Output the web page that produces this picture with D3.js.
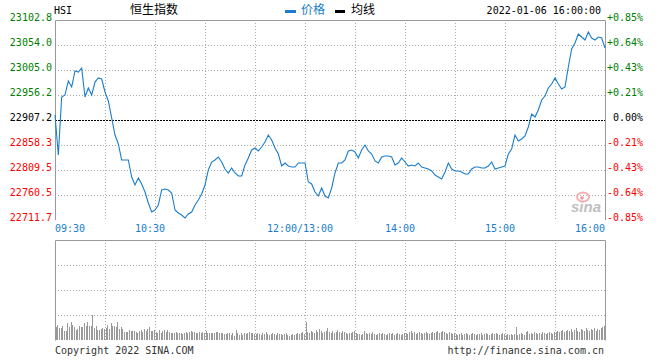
<!DOCTYPE html>
<html>
<head>
<meta charset="utf-8">
<script src="https://cdn.jsdelivr.net/npm/d3@7"></script>
<style>
html,body{margin:0;padding:0;background:#fff;}
svg{display:block;}
.mono{font-family:"DejaVu Sans Mono",monospace;font-size:10px;}
.cjk{font-family:"Noto Sans CJK SC",sans-serif;font-size:12px;}
</style>
</head>
<body>
<svg id="chart" width="660" height="360"></svg>
<script>
// ---------------- DATA ----------------
const symbol = "HSI";
const title = "恒生指数";
const stamp = "2022-01-06 16:00:00";
const prevClose = 22907.2;
const priceTicks = [23102.8, 23054.0, 23005.0, 22956.2, 22907.2, 22858.3, 22809.5, 22760.5, 22711.7];
const pctTicks = ["+0.85%", "+0.64%", "+0.43%", "+0.21%", "0.00%", "-0.21%", "-0.43%", "-0.64%", "-0.85%"];
const timeLabels = ["09:30", "10:30", "12:00/13:00", "14:00", "15:00", "16:00"];
const timeLabelMinutes = [0, 60, 150, 210, 270, 330];
const totalMinutes = 330;
const sampleStep = 2; // price sampled every 2 trading minutes
// index price, every 2 trading minutes from 09:30 to 16:00
const prices = [
22917.0,22838.8,22952.2,22956.1,22983.5,22971.8,23003.1,23001.1,23008.9,22952.2,
22969.8,22956.1,22981.5,22989.4,22987.4,22962.0,22944.4,22911.2,22877.9,22860.3,
22829.0,22829.0,22829.0,22795.8,22780.1,22793.8,22782.1,22766.4,22744.9,22727.3,
22731.2,22741.0,22770.4,22772.3,22770.4,22764.5,22731.2,22725.4,22721.5,22715.6,
22723.4,22727.3,22741.0,22750.8,22762.5,22780.1,22809.5,22825.1,22829.0,22834.9,
22825.1,22811.4,22803.6,22813.4,22803.6,22797.7,22797.7,22819.2,22832.9,22848.6,
22852.5,22846.6,22854.4,22864.2,22877.9,22868.1,22852.5,22840.8,22817.3,22823.2,
22817.3,22815.3,22815.3,22823.2,22823.2,22823.2,22786.0,22782.1,22766.4,22758.6,
22774.3,22758.6,22754.7,22774.3,22803.6,22823.2,22823.2,22829.0,22846.6,22848.6,
22844.7,22832.9,22848.6,22858.4,22846.6,22840.8,22827.1,22823.2,22834.9,22836.8,
22836.8,22834.9,22819.2,22823.2,22832.9,22825.1,22817.3,22819.2,22817.3,22823.2,
22815.3,22813.4,22811.4,22807.5,22799.7,22795.8,22791.9,22805.6,22823.2,22811.4,
22807.5,22807.5,22805.6,22801.6,22801.6,22811.4,22815.3,22815.3,22813.4,22813.4,
22817.3,22825.1,22811.4,22813.4,22815.3,22817.3,22840.8,22850.5,22877.9,22866.2,
22870.1,22876.0,22893.6,22919.0,22913.1,22926.8,22946.4,22954.2,22969.8,22977.6,
22989.4,22977.6,22967.9,22971.8,23010.9,23046.1,23057.8,23075.4,23069.5,23063.7,
23079.3,23067.6,23063.7,23069.5,23067.6,23048.0
];
// per-minute volume (relative units)
const volumes = [
13,15,12,12,14,9,9,17,13,18,15,13,10,11,14,13,13,17,14,18,14,14,25,12,14,10,10,11,12,11,
12,15,11,17,14,14,13,18,11,13,11,8,8,8,10,9,9,9,8,7,9,10,8,11,9,11,13,9,9,10,
8,7,10,7,9,10,8,10,8,7,7,7,8,7,7,7,6,7,8,7,8,9,8,8,7,7,8,7,8,7,
9,7,7,7,7,7,8,8,7,7,7,6,6,7,7,5,7,4,10,7,5,7,5,7,6,7,8,7,7,6,
6,7,6,5,7,6,8,6,5,6,7,6,5,7,6,6,5,6,7,5,4,5,6,5,6,7,6,7,8,6,
18,8,7,9,8,7,10,8,11,9,7,8,9,12,8,7,9,7,8,10,8,7,9,8,7,6,7,7,8,9,
7,6,6,5,6,9,7,6,7,6,8,6,5,6,7,6,7,6,5,6,7,6,7,5,6,7,6,5,6,7,
7,6,8,9,7,8,6,7,8,7,6,7,8,7,6,7,8,7,8,9,7,8,9,8,7,6,8,7,6,7,
6,5,6,7,5,6,7,6,5,6,7,6,5,6,6,7,5,6,7,6,5,6,7,6,7,6,5,6,7,6,
5,6,5,6,5,6,13,5,6,7,6,5,8,9,6,7,6,8,7,6,7,6,8,7,6,7,8,7,6,8,
8,9,8,9,10,8,9,10,9,11,8,10,12,9,8,11,10,9,12,10,9,11,10,12,9,11,10,12,13,14
];
const volMax = 100;
const footerLeft = "Copyright 2022 SINA.COM";
const footerRight = "http://finance.sina.com.cn";

// ---------------- LAYOUT ----------------
const L = 55, R = 605, T = 20, B = 220, VT = 240, VB = 340;
const GREEN = "#008000", RED = "#ff0000", BLUE = "#1a7dcc", GRID = "#aaaaaa", BORDER = "#999999";

const svg = d3.select("#chart");
const x = d3.scaleLinear().domain([0, totalMinutes]).range([L, R]);
const y = d3.scaleLinear().domain([d3.min(priceTicks), d3.max(priceTicks)]).range([B, T]);
const yV = d3.scaleLinear().domain([0, volMax]).range([VB, VT]);

const gridMinutes = d3.range(30, totalMinutes, 30);

// main grid
const g = svg.append("g");
g.selectAll(".vg").data(gridMinutes).enter().append("line")
  .attr("x1", d => Math.round(x(d)) + 0.5).attr("x2", d => Math.round(x(d)) + 0.5)
  .attr("y1", T).attr("y2", B)
  .attr("stroke", GRID).attr("stroke-dasharray", "1,2");
g.selectAll(".hg").data(priceTicks.filter(p => p !== prevClose && p !== d3.max(priceTicks) && p !== d3.min(priceTicks))).enter().append("line")
  .attr("x1", L).attr("x2", R)
  .attr("y1", d => Math.round(y(d)) + 0.5).attr("y2", d => Math.round(y(d)) + 0.5)
  .attr("stroke", GRID).attr("stroke-dasharray", "1,2");
g.append("line")
  .attr("x1", L).attr("x2", R)
  .attr("y1", Math.round(y(prevClose)) + 0.5).attr("y2", Math.round(y(prevClose)) + 0.5)
  .attr("stroke", "#000").attr("stroke-dasharray", "2,1");

// main border (left, top, right)
svg.append("path")
  .attr("d", `M${L + 0.5},${B}V${T + 0.5}H${R + 0.5}V${B}`)
  .attr("fill", "none").attr("stroke", BORDER);

// watermark
const wm = svg.append("g").attr("opacity", 0.8);
wm.append("ellipse").attr("cx", 583).attr("cy", 197).attr("rx", 6).attr("ry", 4.5)
  .attr("fill", "none").attr("stroke", "#f4a0a0").attr("stroke-width", 2);
wm.append("circle").attr("cx", 582).attr("cy", 198).attr("r", 1.8).attr("fill", "#f08080");
wm.append("text").attr("x", 571).attr("y", 212)
  .style("font-family", "Liberation Sans, sans-serif").style("font-size", "15px")
  .style("font-weight", "bold").style("font-style", "italic")
  .attr("fill", "#b0b0b0").text("sina");

// price line
const line = d3.line().x((d, i) => x(i * sampleStep)).y(d => y(d));
svg.append("path").datum(prices)
  .attr("d", line).attr("fill", "none")
  .attr("stroke", BLUE).attr("stroke-width", 1.1);

// left price labels
svg.selectAll(".pl").data(priceTicks).enter().append("text")
  .attr("class", "mono").attr("text-anchor", "end")
  .attr("x", 52).attr("y", d => y(d) + 1)
  .attr("fill", d => d > prevClose ? GREEN : (d < prevClose ? RED : "#000"))
  .text(d => d.toFixed(1));
// right pct labels
svg.selectAll(".pr").data(pctTicks).enter().append("text")
  .attr("class", "mono").attr("text-anchor", "end")
  .attr("x", 643).attr("y", (d, i) => y(priceTicks[i]) + 1)
  .attr("fill", d => d[0] === "+" ? GREEN : (d[0] === "-" ? RED : "#000"))
  .text(d => d);

// time labels
svg.selectAll(".tl").data(timeLabels).enter().append("text")
  .attr("class", "mono")
  .attr("text-anchor", (d, i) => i === 0 ? "start" : (i === timeLabels.length - 1 ? "end" : "middle"))
  .attr("x", (d, i) => i === 0 ? x(timeLabelMinutes[i]) : (i === timeLabels.length - 1 ? x(timeLabelMinutes[i]) : x(timeLabelMinutes[i]) - 5))
  .attr("y", 232)
  .attr("fill", BLUE)
  .text(d => d);

// volume grid
svg.selectAll(".vvg").data(gridMinutes).enter().append("line")
  .attr("x1", d => Math.round(x(d)) + 0.5).attr("x2", d => Math.round(x(d)) + 0.5)
  .attr("y1", VT).attr("y2", VB)
  .attr("stroke", GRID).attr("stroke-dasharray", "1,2");
svg.selectAll(".vhg").data([25, 50, 75]).enter().append("line")
  .attr("x1", L).attr("x2", R)
  .attr("y1", d => Math.round(yV(d)) + 0.5).attr("y2", d => Math.round(yV(d)) + 0.5)
  .attr("stroke", GRID).attr("stroke-dasharray", "1,2");

// volume bars
svg.selectAll(".vb").data(volumes).enter().append("rect")
  .attr("x", (d, i) => Math.round(x(i + 1)) - 1)
  .attr("width", 1)
  .attr("y", d => Math.round(yV(d)))
  .attr("height", d => VB - Math.round(yV(d)))
  .attr("fill", "#999");

// volume border
svg.append("path")
  .attr("d", `M${L + 0.5},${VB + 0.5}V${VT + 0.5}H${R + 0.5}V${VB + 0.5}`)
  .attr("fill", "none").attr("stroke", BORDER);

// header
svg.append("text").attr("class", "mono").attr("x", 54).attr("y", 13.5).attr("fill", "#000").text(symbol);
svg.append("text").attr("class", "cjk").attr("x", 130).attr("y", 14).attr("fill", "#000").text(title);
svg.append("rect").attr("x", 285).attr("y", 10).attr("width", 11).attr("height", 3).attr("fill", BLUE);
svg.append("text").attr("class", "cjk").attr("x", 301).attr("y", 14).attr("fill", BLUE).text("价格");
svg.append("rect").attr("x", 335).attr("y", 10).attr("width", 10).attr("height", 3).attr("fill", "#000");
svg.append("text").attr("class", "cjk").attr("x", 351).attr("y", 14).attr("fill", "#000").text("均线");
svg.append("text").attr("class", "mono").attr("x", 601).attr("y", 13.5).attr("text-anchor", "end").attr("fill", "#000").text(stamp);

// footer
svg.append("text").attr("class", "mono").attr("x", 55).attr("y", 354).attr("fill", "#333").text(footerLeft);
svg.append("text").attr("class", "mono").attr("x", 604).attr("y", 354).attr("text-anchor", "end").attr("fill", "#333").text(footerRight);
</script>
</body>
</html>
